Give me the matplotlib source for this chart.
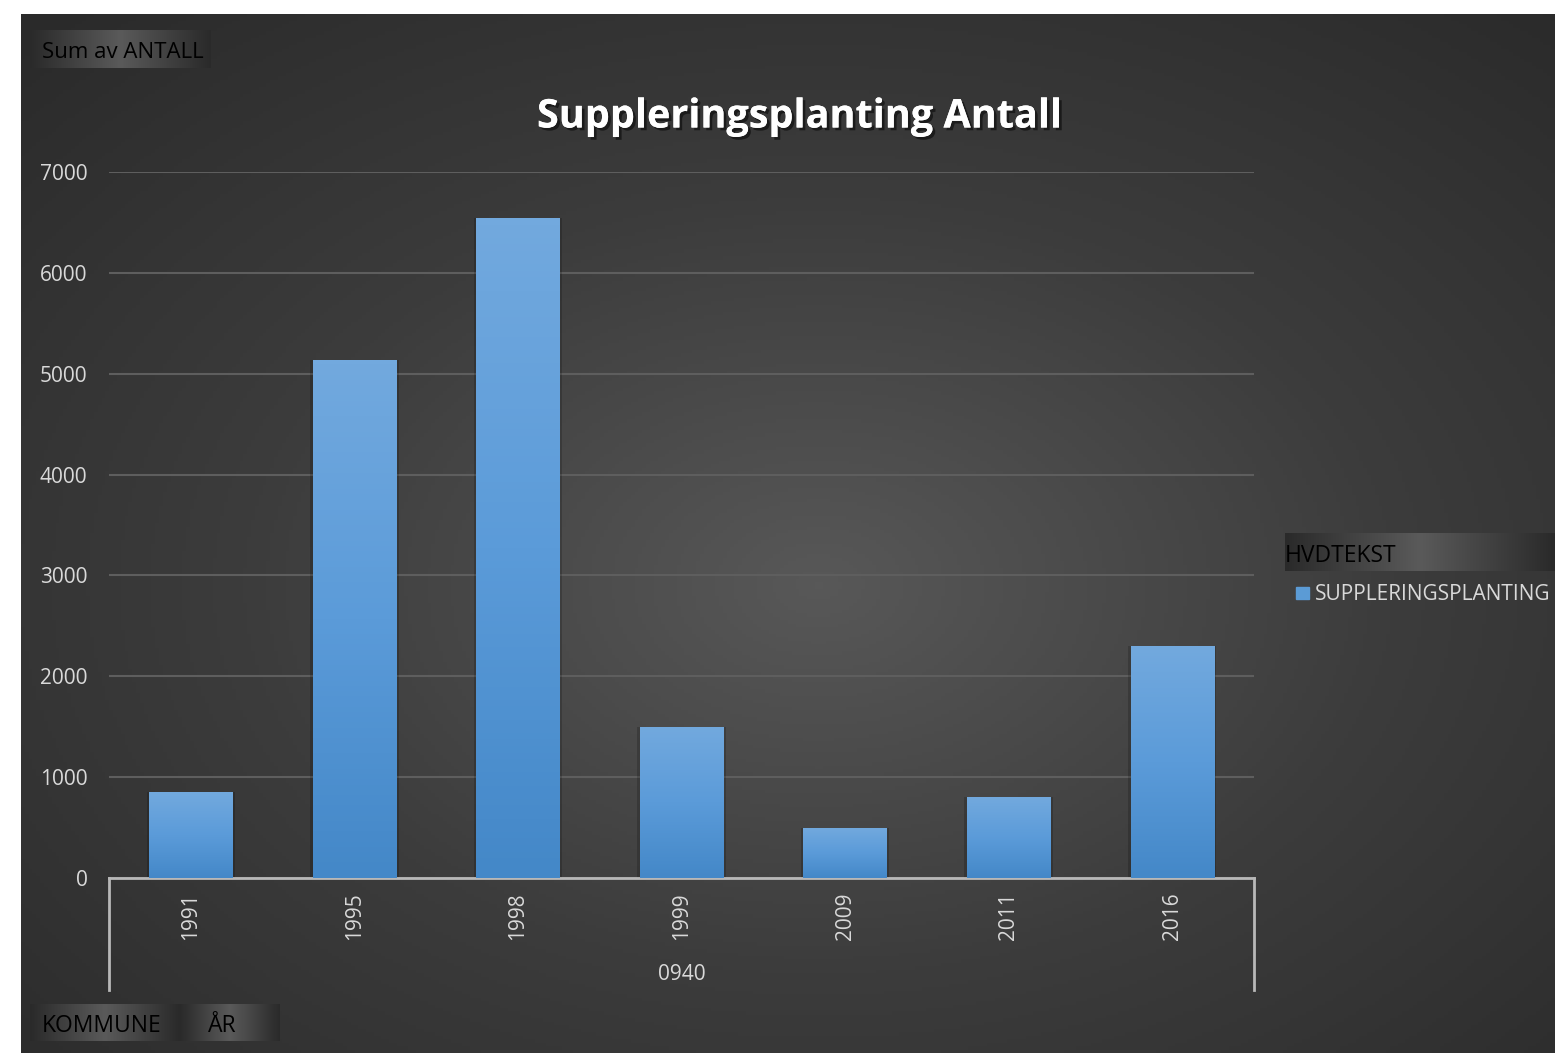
import numpy as np
import matplotlib
matplotlib.use("Agg")
import matplotlib.pyplot as plt
from matplotlib.colors import LinearSegmentedColormap
import matplotlib.patheffects as pe

plt.rcParams['font.family'] = ['Open Sans', 'DejaVu Sans']

years = ['1991', '1995', '1998', '1999', '2009', '2011', '2016']
antall = [850, 5140, 6540, 1500, 500, 800, 2300]
kommune = '0940'
title = 'Suppleringsplanting Antall'
series_name = 'SUPPLERINGSPLANTING'
legend_title = 'HVDTEKST'
yticks = [0, 1000, 2000, 3000, 4000, 5000, 6000, 7000]

W, H = 1555, 1053
fig = plt.figure(figsize=(W / 100, H / 100), dpi=100)
fig.patch.set_facecolor('white')


def fx(px):
    return px / W


def fy(py):
    return 1 - py / H


# chart background with radial gradient
bg = fig.add_axes([fx(21), fy(1053), fx(1555) - fx(21), fy(14) - fy(1053)], zorder=0)
gx, gy = np.meshgrid(np.linspace(0, 1, 400), np.linspace(0, 1, 300))
r = np.sqrt(((gx - 0.52) / 0.75) ** 2 + ((gy - 0.55) / 0.75) ** 2)
bg_cmap = LinearSegmentedColormap.from_list('bg', ['#585858', '#3c3c3c', '#2a2a2a'])
bg.imshow(r, cmap=bg_cmap, aspect='auto', vmin=0, vmax=1.0, extent=[0, 1, 0, 1])
bg.set_axis_off()

# small field buttons
btn_cmap = LinearSegmentedColormap.from_list('b', ['#2a2a2a', '#5a5a5a'])


def button(x0, y0, x1, y1, text, size=16.5, tx=None):
    bax = fig.add_axes([fx(x0), fy(y1), fx(x1) - fx(x0), fy(y0) - fy(y1)], zorder=1)
    grad = np.tile(np.abs(np.linspace(-1, 1, 200)), (20, 1))
    bax.imshow(1 - grad, cmap=btn_cmap, aspect='auto', extent=[0, 1, 0, 1], vmin=0, vmax=1)
    bax.set_axis_off()
    fig.text(fx(tx if tx is not None else x0 + 12), fy((y0 + y1) / 2 + 4), text,
             color='black', fontsize=size, va='center', ha='left', zorder=5)


button(30, 30, 211, 68, 'Sum av ANTALL', size=16, tx=42)
button(30, 1004, 180, 1041, 'KOMMUNE', tx=42)
button(180, 1004, 280, 1041, 'ÅR', tx=208)
button(1285, 533, 1555, 571, legend_title, tx=1285)

# main axes
ax = fig.add_axes([fx(109), fy(878), fx(1254) - fx(109), fy(172) - fy(878)], zorder=2)
ax.set_facecolor('none')
x = np.arange(len(years))
bars = ax.bar(x, antall, width=0.51, color='#5b9bd5', zorder=3)

bar_cmap = LinearSegmentedColormap.from_list('bar', ['#4488c8', '#5b9bd9', '#72a9de'])
for b in bars:
    bx, bw, bh = b.get_x(), b.get_width(), b.get_height()
    # soft shadow
    ax.bar(bx + bw / 2, bh, width=bw + 0.03, color='black', alpha=0.18, zorder=2)
    im = ax.imshow(np.linspace(0, 1, 100).reshape(-1, 1), cmap=bar_cmap, origin='lower',
                   extent=[bx, bx + bw, 0, bh], aspect='auto', zorder=4)
    im.set_clip_path(b)
ax.set_xlim(-0.5, len(years) - 0.5)
ax.set_ylim(0, 7000)

ax.set_yticks(yticks)
ax.set_yticklabels([str(v) for v in yticks])
ax.yaxis.grid(True, color='#5e5e5e', lw=1.5, zorder=1)
ax.set_axisbelow(True)
ax.tick_params(axis='y', length=0, colors='#d9d9d9', labelsize=15, pad=15.5)
ax.set_xticks(x)
ax.set_xticklabels(years, rotation=90, va='top', ha='center')
ax.tick_params(axis='x', length=0, colors='#d9d9d9', labelsize=15, pad=10.5)
for s in ['top', 'right', 'left']:
    ax.spines[s].set_visible(False)
ax.spines['bottom'].set_color('#b8b8b8')
ax.spines['bottom'].set_linewidth(2)

# outer group axis
for xe in [0, 1]:
    ax.plot([xe, xe], [0, -(990 - 878) / (878 - 172)], transform=ax.transAxes,
            color='#b8b8b8', lw=2, clip_on=False)
ax.text(0.5, -(974 - 878) / (878 - 172), kommune, transform=ax.transAxes,
        ha='center', va='center', color='#d9d9d9', fontsize=15)

# title
fig.text(fx(800), fy(117), title, ha='center', va='center', color='white',
         fontsize=28.5, fontweight='bold',
         path_effects=[pe.withSimplePatchShadow(offset=(2, -2), shadow_rgbFace='black', alpha=0.5),
                       pe.Normal()])

# legend entry
fig.patches.append(plt.Rectangle((fx(1296), fy(599)), fx(13), fy(587) - fy(599),
                                 transform=fig.transFigure, color='#5b9bd5', zorder=5))
fig.text(fx(1315), fy(594), series_name, color='#d9d9d9', fontsize=15, va='center', ha='left')

fig.savefig('out.png', dpi=100, facecolor='white')
